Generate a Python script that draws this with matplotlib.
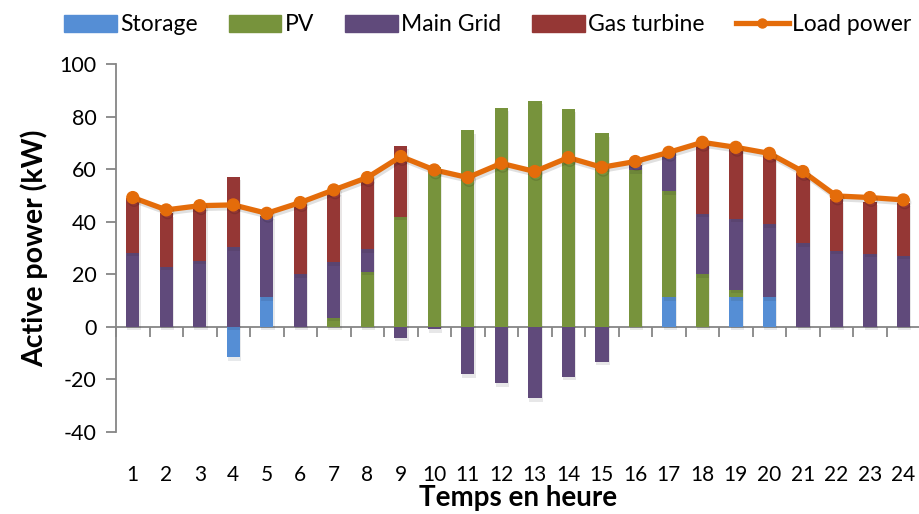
import numpy as np
import matplotlib
matplotlib.use("Agg")
import matplotlib.pyplot as plt
from matplotlib.patches import Patch
from matplotlib.lines import Line2D
import matplotlib.patheffects as pe

plt.rcParams['font.family'] = ['Lato', 'DejaVu Sans']
plt.rcParams['axes.unicode_minus'] = False

heures = list(range(1, 25))
storage = [0, 0, 0, -11.5, 11.3, 0, 0, 0, 0, 0, 0, 0, 0, 0, 0, 0, 11.3, 0, 11.3, 11.3, 0, 0, 0, 0]
pv = [0, 0, 0, 0, 0, 0, 3.4, 20.9, 41.9, 60.7, 74.8, 83.4, 86.1, 82.9, 73.6, 59.5, 40.2, 20, 2.8, 0, 0, 0, 0, 0]
grid = [28.1, 22.8, 25.1, 30.3, 31, 20, 21.2, 8.6, -4.2, -1, -18.1, -21.5, -27.1, -18.9, -13.3, 2.1,
        14.6, 23, 27, 27.7, 31.8, 28.9, 27.8, 27]
gas = [20.8, 20.4, 20.7, 26.9, 0, 26.8, 26.9, 27, 26.9, 0, 0, 0, 0, 0, 0, 0, 0, 26.2, 26.8, 26.4, 26.6,
       19.6, 19.8, 20.3]
load = [49.2, 44.5, 46.1, 46.4, 43.2, 47.3, 52.1, 56.8, 64.8, 59.7, 56.8, 62.2, 59.1, 64.4, 60.7, 62.9,
        66.4, 70.2, 68.3, 66, 59.1, 49.8, 49.2, 48.3]

noms = ["Storage", "PV", "Main Grid", "Gas turbine"]
couleurs = ["#558ED5", "#77933C", "#604A7B", "#953735"]
orange = "#E46C0A"
gris = "#868686"

fig = plt.figure(figsize=(9.2, 5.14), dpi=100)
ax = fig.add_axes([0.1261, 0.1595, 0.874, 0.716])
ymin, ymax = -40, 100

x = np.array(heures)
pos = np.zeros(len(x))
neg = np.zeros(len(x))
ombre = [pe.SimplePatchShadow(offset=(1, -2.5), alpha=0.1), pe.Normal()]
for serie, c in zip([storage, pv, grid, gas], couleurs):
    v = np.array(serie, dtype=float)
    bas = np.where(v >= 0, pos, neg)
    ax.bar(x, v, bottom=bas, width=0.4, color=c, zorder=2, path_effects=ombre)
    pos = pos + np.where(v > 0, v, 0)
    neg = neg + np.where(v < 0, v, 0)

ax.plot(x, load, color=orange, lw=3.8, marker='o', ms=8.5, zorder=4,
        path_effects=[pe.SimpleLineShadow(offset=(1, -2), alpha=0.12), pe.Normal()])

ax.set_xlim(0.5, 24.5)
ax.set_ylim(ymin, ymax)
ax.set_yticks(range(-40, 101, 20))
ax.set_xticks(heures)
ax.tick_params(axis='x', length=0, pad=24, labelsize=15)
ax.tick_params(axis='y', length=7, width=1.3, color=gris, labelsize=15.5, pad=7)
for s in ['top', 'right', 'bottom']:
    ax.spines[s].set_visible(False)
ax.spines['left'].set_color(gris)
ax.spines['left'].set_linewidth(1.3)

# axe horizontal a zero avec les graduations entre categories
sec = ax.secondary_xaxis((0 - ymin) / (ymax - ymin))
sec.set_xticks(np.arange(0.5, 25, 1))
sec.set_xticklabels([])
sec.tick_params(length=7, width=1.3, color=gris, direction='out')
sec.spines['bottom'].set_color(gris)
sec.spines['bottom'].set_linewidth(1.3)
sec.spines['top'].set_visible(False)

ax.set_xlabel("Temps en heure", fontsize=20, fontweight='bold', labelpad=0)
ax.set_ylabel("Active power (kW)", fontsize=20.5, fontweight='bold', labelpad=8)

poignees = [Patch(color=c) for c in couleurs]
poignees.append(Line2D([0], [0], color=orange, lw=3.8, marker='o', ms=6.5))
fig.legend(poignees, noms + ["Load power"], loc='upper center', bbox_to_anchor=(0.53, 1.012),
           ncol=5, frameon=False, fontsize=16.5, handlelength=2.3, handleheight=0.8,
           handletextpad=0.15, columnspacing=1.35)

fig.savefig("out.png", dpi=100)
